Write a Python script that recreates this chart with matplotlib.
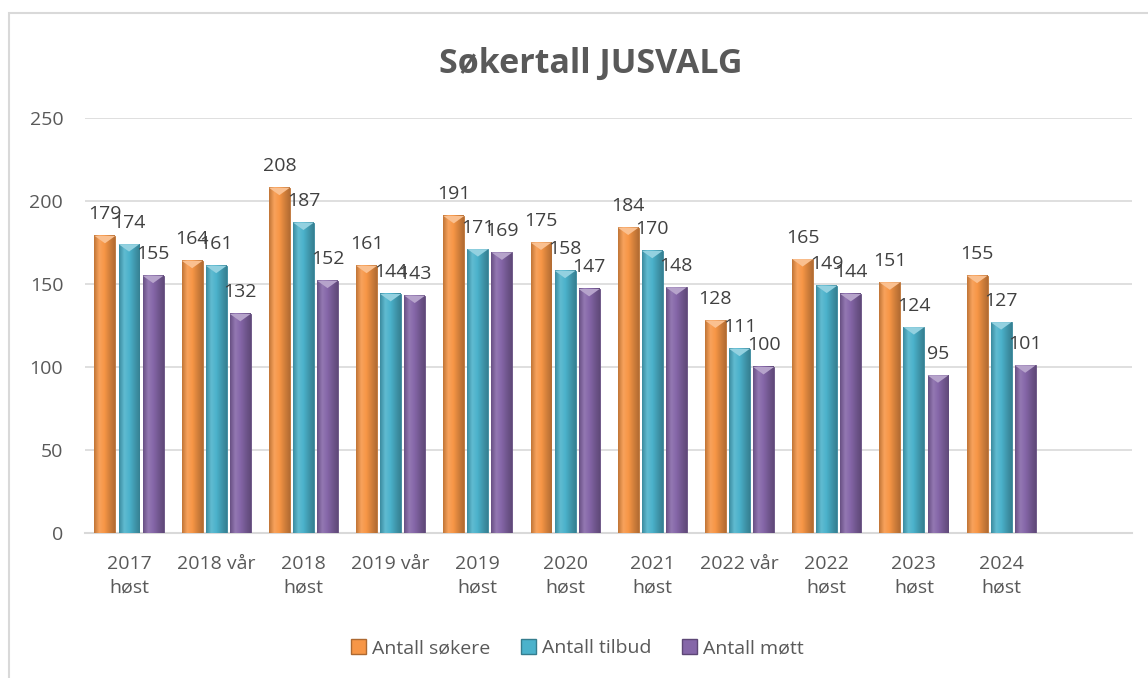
import numpy as np
import matplotlib.pyplot as plt
from matplotlib.colors import LinearSegmentedColormap, to_rgb
from matplotlib.patches import Rectangle, Polygon, Patch

plt.rcParams['font.family'] = ['Open Sans', 'DejaVu Sans']

# data
categories = ['2017\nhøst', '2018 vår', '2018\nhøst', '2019 vår', '2019\nhøst',
              '2020\nhøst', '2021\nhøst', '2022 vår', '2022\nhøst', '2023\nhøst',
              '2024\nhøst', '']
sokere = [179, 164, 208, 161, 191, 175, 184, 128, 165, 151, 155]
tilbud = [174, 161, 187, 144, 171, 158, 170, 111, 149, 124, 127]
mott = [155, 132, 152, 143, 169, 147, 148, 100, 144, 95, 101]

series = [('Antall søkere', sokere, '#F79646'),
          ('Antall tilbud', tilbud, '#4BB2CB'),
          ('Antall møtt', mott, '#8566A8')]

text_col = '#595959'
grid_col = '#D9D9D9'


def shade(c, f):
    r = np.array(to_rgb(c))
    if f < 1:
        return tuple(r * f)
    return tuple(r + (1 - r) * (f - 1))


fig = plt.figure(figsize=(11.48, 6.78), dpi=100)
ax = fig.add_axes([0.0744, 0.2139, 0.9116, 0.6121])

# outer chart border (cut off on right and bottom like the screenshot)
fig.patches.append(Rectangle((9 / 1148, -0.05), 1.2, 1 - 13 / 678 + 0.05,
                             transform=fig.transFigure, fill=False,
                             edgecolor=grid_col, lw=1.5))

x = np.arange(len(sokere))
bw = 0.24
step = 0.276

for i, (name, vals, col) in enumerate(series):
    bars = ax.bar(x + (i - 1) * step, vals, bw, color=col, zorder=3,
                  edgecolor=shade(col, 0.75), linewidth=0.6)
    cmap = LinearSegmentedColormap.from_list(
        'g', [shade(col, 0.78), shade(col, 1.12), shade(col, 1.0), shade(col, 0.85), shade(col, 0.72)])
    grad = np.linspace(0, 1, 64).reshape(1, -1)
    for b, v in zip(bars, vals):
        x0, w = b.get_x(), b.get_width()
        ax.imshow(grad, extent=[x0, x0 + w, 0, v], aspect='auto', cmap=cmap,
                  zorder=3.5, interpolation='bilinear')
        # top bevel
        ax.add_patch(Polygon([[x0, v], [x0 + w, v], [x0 + w * 0.5, v - 4.5]],
                             closed=True, facecolor=shade(col, 1.4),
                             edgecolor='none', zorder=4))
        ax.annotate(str(v), (x0 + w / 2, v), xytext=(0, 9),
                    textcoords='offset points', ha='center', va='bottom',
                    fontsize=14, color='#404040', zorder=6)

ax.set_xlim(-0.5, len(categories) - 0.5)
ax.set_ylim(0, 250)
ax.set_yticks(range(0, 251, 50))
ax.set_xticks(np.arange(len(categories)))
ax.set_xticklabels(categories, linespacing=1.4)
ax.tick_params(axis='both', length=0, labelsize=14, labelcolor=text_col)
ax.tick_params(axis='y', pad=16)
ax.tick_params(axis='x', pad=16)
ax.grid(axis='y', color=grid_col, lw=1.2, zorder=0)
for s in ['top', 'right', 'left']:
    ax.spines[s].set_visible(False)
ax.spines['bottom'].set_color(grid_col)
ax.spines['bottom'].set_linewidth(1.5)

fig.text(0.515, 0.906, 'Søkertall JUSVALG', ha='center', va='center',
         fontsize=24.5, fontweight='bold', color=text_col)

handles = [Patch(facecolor=c, edgecolor=shade(c, 0.7)) for _, _, c in series]
fig.legend(handles, [s[0] for s in series], loc='center',
           bbox_to_anchor=(0.503, 0.044), ncol=3, frameon=False,
           fontsize=14, labelcolor=text_col, handlelength=0.75,
           handleheight=0.75, handletextpad=0.3, columnspacing=1.6)

fig.savefig('out.png', dpi=100)
